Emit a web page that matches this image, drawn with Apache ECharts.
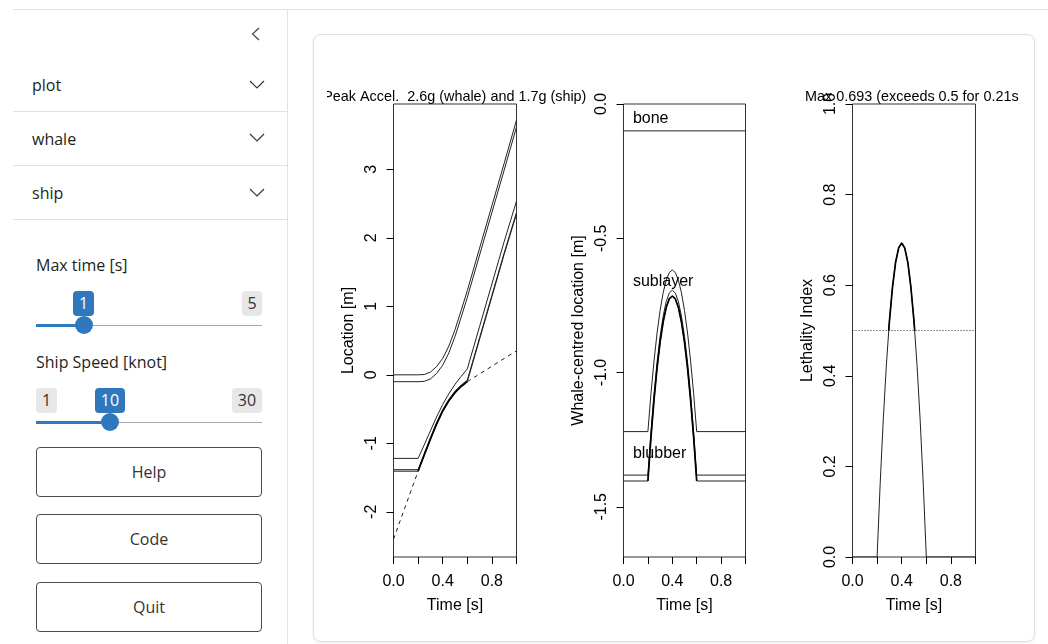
<!DOCTYPE html>
<html>
<head>
<meta charset="utf-8">
<script src="https://cdn.jsdelivr.net/npm/echarts/dist/echarts.min.js"></script>
<style>
  html, body { margin: 0; padding: 0; }
  body { width: 1048px; height: 644px; overflow: hidden; background: #fff; position: relative;
         font-family: 'Open Sans', sans-serif; color: #1d1f21; }
  .abs { position: absolute; }
  .hline { position: absolute; height: 1px; background: #e2e2e2; }
  .txt { position: absolute; font-size: 16px; line-height: 16px; white-space: nowrap; }
  .badge { position: absolute; height: 25px; line-height: 25px; font-size: 16px; text-align: center; border-radius: 4px; }
  .blue { background: #2f78be; color: #fff; }
  .grey { background: #e7e7e7; color: #333; }
  .track { position: absolute; height: 1px; background: #a8a8a8; }
  .bar { position: absolute; height: 3px; background: #2f78be; }
  .handle { position: absolute; width: 18px; height: 18px; border-radius: 50%; background: #2f78be; }
  .btn { position: absolute; left: 36px; width: 226px; height: 50px; box-sizing: border-box; border: 1px solid #4a4a4a;
         border-radius: 4px; display: flex; align-items: center; justify-content: center; font-size: 16px; color: #333; }
  .card { position: absolute; left: 313px; top: 34px; width: 722px; height: 608px; box-sizing: border-box;
          border: 1px solid #e0e0e0; border-radius: 8px; box-shadow: 0 1px 3px rgba(0,0,0,0.08); background: #fff; }
  #chart { position: absolute; left: 327px; top: 40px; width: 692px; height: 595px; }
</style>
</head>
<body>
  <!-- page frame -->
  <div class="hline" style="left:13px; top:9px; width:1035px;"></div>
  <div class="abs" style="left:287px; top:10px; width:1px; height:634px; background:#e2e2e2;"></div>

  <!-- sidebar -->
  <svg class="abs" style="left:251px; top:27px;" width="9" height="14" viewBox="0 0 9 14">
    <polyline points="8,1 1.5,7 8,13" fill="none" stroke="#444" stroke-width="1.2"/>
  </svg>

  <div class="txt" style="left:32px; top:77px;">plot</div>
  <svg class="abs" style="left:249px; top:80px;" width="16" height="9" viewBox="0 0 16 9">
    <polyline points="1,1 8,8 15,1" fill="none" stroke="#333" stroke-width="1.2"/>
  </svg>
  <div class="hline" style="left:13px; top:111px; width:274px;"></div>

  <div class="txt" style="left:32px; top:131px;">whale</div>
  <svg class="abs" style="left:249px; top:133px;" width="16" height="9" viewBox="0 0 16 9">
    <polyline points="1,1 8,8 15,1" fill="none" stroke="#333" stroke-width="1.2"/>
  </svg>
  <div class="hline" style="left:13px; top:165px; width:274px;"></div>

  <div class="txt" style="left:32px; top:185px;">ship</div>
  <svg class="abs" style="left:249px; top:188px;" width="16" height="9" viewBox="0 0 16 9">
    <polyline points="1,1 8,8 15,1" fill="none" stroke="#333" stroke-width="1.2"/>
  </svg>
  <div class="hline" style="left:13px; top:219px; width:274px;"></div>

  <div class="txt" style="left:36px; top:257px;">Max time [s]</div>
  <div class="badge blue" style="left:73px; top:291px; width:21px;">1</div>
  <div class="badge grey" style="left:242px; top:291px; width:20px;">5</div>
  <div class="track" style="left:36px; top:325px; width:226px;"></div>
  <div class="bar" style="left:36px; top:324px; width:48px;"></div>
  <div class="handle" style="left:75px; top:316px;"></div>

  <div class="txt" style="left:36px; top:354px;">Ship Speed [knot]</div>
  <div class="badge grey" style="left:36px; top:388px; width:21px;">1</div>
  <div class="badge blue" style="left:95px; top:388px; width:30px;">10</div>
  <div class="badge grey" style="left:232px; top:388px; width:30px;">30</div>
  <div class="track" style="left:36px; top:422px; width:226px;"></div>
  <div class="bar" style="left:36px; top:421px; width:74px;"></div>
  <div class="handle" style="left:101px; top:413px;"></div>

  <div class="btn" style="top:447px;">Help</div>
  <div class="btn" style="top:514px;">Code</div>
  <div class="btn" style="top:582px;">Quit</div>

  <!-- main card -->
  <div class="card"></div>
  <div id="chart"></div>

<script>
// ---------------- data ----------------
const FONT = '"Liberation Sans", Arial, Helvetica, sans-serif';

const xTicks = [0, 0.2, 0.4, 0.6, 0.8, 1.0];
const xTickLabels = [0, 0.4, 0.8];
const locTicks = [-2, -1, 0, 1, 2, 3];
const midTicks = [-1.5, -1.0, -0.5, 0];
const lethTicks = [0, 0.2, 0.4, 0.6, 0.8, 1.0];

const titleLoc = 'Peak Accel.  2.6g (whale) and 1.7g (ship)';
const titleLeth = 'Max 0.693 (exceeds 0.5 for 0.21s)';

const contactStart = 0.2;
const contactEnd = 0.6;

// Panel 1: location [m] vs time [s]
const timeLoc    = [0, 0.2, 0.25, 0.3, 0.35, 0.4, 0.45, 0.5, 0.55, 0.6, 0.7, 0.8, 0.9, 1.0];
const boneTop    = [0, 0, 0.005, 0.04, 0.12, 0.24, 0.42, 0.66, 0.94, 1.23, 1.85, 2.47, 3.09, 3.72];
const boneBottom = [-0.1, -0.1, -0.095, -0.06, 0.02, 0.14, 0.32, 0.56, 0.84, 1.13, 1.75, 2.37, 2.99, 3.62];
const blubberTop = [-1.22, -1.22, -1.023, -0.818, -0.616, -0.433, -0.276, -0.138, -0.023, 0.087, 0.707, 1.327, 1.947, 2.537];
const skinInner  = [-1.385, -1.385, -1.148, -0.918, -0.698, -0.508, -0.358, -0.238, -0.148, -0.078, 0.542, 1.162, 1.782, 2.372];
const skinOuter  = [-1.407, -1.407, -1.17, -0.94, -0.72, -0.53, -0.38, -0.26, -0.17, -0.1, 0.52, 1.14, 1.76, 2.35];
const shipBow    = [-2.40, -1.407, -1.17, -0.94, -0.72, -0.53, -0.38, -0.26, -0.17, -0.1, 0.013, 0.126, 0.239, 0.35];

// Panel 2: whale-centred location [m] vs time [s]
const timeMid   = [0, 0.2, 0.225, 0.25, 0.275, 0.3, 0.325, 0.35, 0.375, 0.4, 0.425, 0.45, 0.475, 0.5, 0.525, 0.55, 0.575, 0.6, 1.0];
const sublayerB = [-1.22, -1.22, -1.079, -0.957, -0.853, -0.769, -0.703, -0.656, -0.628, -0.618, -0.628, -0.656, -0.703, -0.769, -0.853, -0.957, -1.079, -1.22, -1.22];
const blubberB  = [-1.382, -1.382, -1.221, -1.081, -0.962, -0.865, -0.790, -0.736, -0.704, -0.693, -0.704, -0.736, -0.790, -0.865, -0.962, -1.081, -1.221, -1.382, -1.382];
const skinB     = [-1.404, -1.404, -1.243, -1.103, -0.984, -0.887, -0.812, -0.758, -0.726, -0.715, -0.726, -0.758, -0.812, -0.887, -0.984, -1.103, -1.243, -1.404, -1.404];
const boneLineTime = [0, 1.0];
const boneLine     = [-0.1, -0.1];
const layerNames = ['bone', 'sublayer', 'blubber'];
const layerX     = [0.077, 0.077, 0.077];
const layerY     = [-0.054, -0.662, -1.302];

// Panel 3: lethality index vs time [s]
const timeLeth = [0, 0.2, 0.225, 0.25, 0.275, 0.3, 0.325, 0.35, 0.375, 0.4, 0.425, 0.45, 0.475, 0.5, 0.525, 0.55, 0.575, 0.6, 1.0];
const leth     = [0, 0, 0.162, 0.303, 0.422, 0.520, 0.595, 0.650, 0.682, 0.693, 0.682, 0.650, 0.595, 0.520, 0.422, 0.303, 0.162, 0, 0];
const lethHighTime = [0.2945, 0.3, 0.325, 0.35, 0.375, 0.4, 0.425, 0.45, 0.475, 0.5, 0.5055];
const lethHigh     = [0.5, 0.520, 0.595, 0.650, 0.682, 0.693, 0.682, 0.650, 0.595, 0.520, 0.5];
const thresholdTime = [0, 1.0];
const threshold     = [0.5, 0.5];

// ---------------- helpers ----------------
const zip = (xs, ys) => xs.map((x, i) => [x, ys[i]]);
const within = (xs, ys, a, b) => zip(xs, ys).filter(p => p[0] >= a - 1e-9 && p[0] <= b + 1e-9);

const textStyle = { fontFamily: FONT, fontSize: 16, color: '#000' };

function xAxisFor(gi) {
  return {
    type: 'value', gridIndex: gi, min: 0, max: 1, position: 'bottom',
    name: 'Time [s]', nameLocation: 'middle', nameGap: 41, nameTextStyle: textStyle,
    axisLine: { show: false, onZero: false },
    axisTick: { show: true, inside: false, length: 7, customValues: xTicks, lineStyle: { color: '#000', width: 1 } },
    axisLabel: { show: true, customValues: xTickLabels, formatter: v => v.toFixed(1), margin: 17, ...textStyle },
    splitLine: { show: false }
  };
}
function yAxisFor(gi, min, max, name, ticks, fmt) {
  return {
    type: 'value', gridIndex: gi, min, max, position: 'left',
    name, nameLocation: 'middle', nameRotate: 90, nameGap: 37, nameTextStyle: textStyle,
    axisLine: { show: false, onZero: false },
    axisTick: { show: true, inside: false, length: 7, customValues: ticks, lineStyle: { color: '#000', width: 1 } },
    axisLabel: { show: true, customValues: ticks, rotate: 90, formatter: fmt, margin: 14, ...textStyle },
    splitLine: { show: false }
  };
}
function line(ax, data, width, type, z) {
  return {
    type: 'line', xAxisIndex: ax, yAxisIndex: ax, data, symbol: 'none', showSymbol: false,
    silent: true, z: z || 2, lineStyle: { color: width > 1 ? '#000' : '#222', width, type: type || 'solid' }
  };
}
const gridBase = { top: 64, height: 453, show: true, borderColor: '#333', borderWidth: 1,
                   backgroundColor: 'transparent', containLabel: false, outerBoundsMode: 'none' };

const chart = echarts.init(document.getElementById('chart'), null, { renderer: 'canvas' });
chart.setOption({
  animation: false,
  backgroundColor: 'transparent',
  grid: [
    { ...gridBase, left: 66.5, width: 123 },
    { ...gridBase, left: 296.5, width: 122 },
    { ...gridBase, left: 525.5, width: 123 }
  ],
  xAxis: [xAxisFor(0), xAxisFor(1), xAxisFor(2)],
  yAxis: [
    yAxisFor(0, -2.66, 3.955, 'Location [m]', locTicks, v => String(v)),
    yAxisFor(1, -1.687, 0, 'Whale-centred location [m]', midTicks, v => v.toFixed(1)),
    yAxisFor(2, 0, 1, 'Lethality Index', lethTicks, v => v.toFixed(1))
  ],
  graphic: [
    { type: 'text', x: 127.8, y: 57, silent: true,
      style: { text: titleLoc, fontFamily: FONT, fontSize: 14.4, fill: '#000', textAlign: 'center', textVerticalAlign: 'middle' } },
    { type: 'text', x: 587.2, y: 57, silent: true,
      style: { text: titleLeth, fontFamily: FONT, fontSize: 14.4, fill: '#000', textAlign: 'center', textVerticalAlign: 'middle' } }
  ],
  series: [
    // panel 1
    line(0, zip(timeLoc, shipBow), 1, [4, 4], 1),
    line(0, zip(timeLoc, boneTop), 1),
    line(0, zip(timeLoc, boneBottom), 1),
    line(0, zip(timeLoc, blubberTop), 1),
    line(0, zip(timeLoc, skinInner), 1),
    line(0, zip(timeLoc, skinOuter), 1),
    line(0, within(timeLoc, skinOuter, contactStart, contactEnd), 1.7, 'solid', 3),
    // panel 2
    line(1, zip(boneLineTime, boneLine), 1),
    line(1, zip(timeMid, sublayerB), 1),
    line(1, zip(timeMid, blubberB), 1),
    line(1, zip(timeMid, skinB), 1),
    line(1, within(timeMid, skinB, contactStart, contactEnd), 1.7, 'solid', 3),
    {
      type: 'scatter', xAxisIndex: 1, yAxisIndex: 1, symbol: 'circle', symbolSize: 0, silent: true, z: 5,
      itemStyle: { color: '#000', opacity: 1 },
      data: layerNames.map((n, i) => ({ name: n, value: [layerX[i], layerY[i]] })),
      label: { show: true, position: 'right', distance: 0, formatter: '{b}', opacity: 1,
               textBorderWidth: 0, ...textStyle }
    },
    // panel 3
    line(2, zip(thresholdTime, threshold), 1, [1, 2], 1),
    line(2, zip(timeLeth, leth), 1),
    line(2, zip(lethHighTime, lethHigh), 1.7, 'solid', 3)
  ]
});
</script>
</body>
</html>
